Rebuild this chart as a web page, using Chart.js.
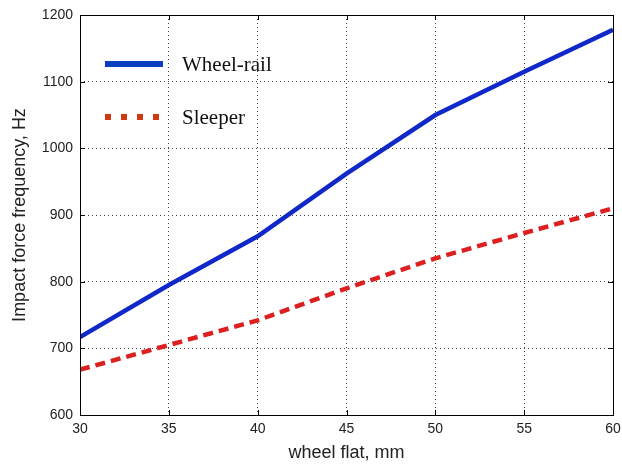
<!DOCTYPE html>
<html>
<head>
<meta charset="utf-8">
<script src="https://cdn.jsdelivr.net/npm/chart.js@4"></script>
<style>
html,body{margin:0;padding:0;background:#fff;}
#wrap{width:622px;height:464px;position:relative;}
</style>
</head>
<body>
<div id="wrap"><canvas id="c" width="622" height="464"></canvas></div>
<script>
const wheelFlat = [30, 35, 40, 45, 50, 55, 60];
const wheelRail = [717, 795, 868, 962, 1050, 1115, 1178];
const sleeper = [668, 705, 742, 790, 835, 873, 910];
const seriesNames = ['Wheel-rail', 'Sleeper'];
const xTicks = [30, 35, 40, 45, 50, 55, 60];
const yTicks = [600, 700, 800, 900, 1000, 1100, 1200];

const boxPlugin = {
  id: 'box',
  afterDraw(chart) {
    const a = chart.chartArea, ctx = chart.ctx;
    ctx.save();
    ctx.strokeStyle = '#000';
    ctx.lineWidth = 1;
    ctx.setLineDash([]);
    ctx.strokeRect(Math.round(a.left) + 0.5, Math.round(a.top) + 0.5, Math.round(a.right - a.left), Math.round(a.bottom - a.top));
    // inward ticks
    const xs = chart.scales.x, ys = chart.scales.y;
    ctx.beginPath();
    xTicks.forEach(v => {
      const px = Math.round(xs.getPixelForValue(v)) + 0.5;
      ctx.moveTo(px, a.bottom); ctx.lineTo(px, a.bottom - 5);
      ctx.moveTo(px, a.top); ctx.lineTo(px, a.top + 5);
    });
    yTicks.forEach(v => {
      const py = Math.round(ys.getPixelForValue(v)) + 0.5;
      ctx.moveTo(a.left, py); ctx.lineTo(a.left + 5, py);
      ctx.moveTo(a.right, py); ctx.lineTo(a.right - 5, py);
    });
    ctx.stroke();
    // legend
    const items = chart.data.datasets;
    const x0 = a.left + 25, x1 = a.left + 83, tx = a.left + 102;
    const ys0 = [a.top + 49, a.top + 102];
    items.forEach((ds, i) => {
      const y = ys0[i];
      ctx.beginPath();
      ctx.strokeStyle = ds.legendColor || ds.borderColor;
      ctx.lineWidth = 6;
      ctx.setLineDash(ds.borderDash && ds.borderDash.length ? [6, 10] : []);
      ctx.lineCap = 'butt';
      ctx.moveTo(x0, y); ctx.lineTo(x1, y);
      ctx.stroke();
      ctx.setLineDash([]);
      ctx.fillStyle = '#111';
      ctx.font = '21px "Liberation Serif", "DejaVu Serif", serif';
      ctx.textBaseline = 'middle';
      ctx.textAlign = 'left';
      ctx.fillText(ds.label, tx, y + 1);
    });
    ctx.restore();
  }
};

const sans = '"Liberation Sans", Arial, sans-serif';

new Chart(document.getElementById('c'), {
  type: 'line',
  data: {
    labels: wheelFlat,
    datasets: [
      {
        label: seriesNames[0],
        data: wheelFlat.map((x, i) => ({x: x, y: wheelRail[i]})),
        borderColor: '#1028c8',
        legendColor: '#0a3fc0',
        borderWidth: 4.5,
        pointRadius: 0,
        tension: 0,
        fill: false
      },
      {
        label: seriesNames[1],
        data: wheelFlat.map((x, i) => ({x: x, y: sleeper[i]})),
        borderColor: '#dc1f1f',
        legendColor: '#d03a10',
        borderWidth: 4.5,
        borderDash: [10, 6],
        pointRadius: 0,
        tension: 0,
        fill: false
      }
    ]
  },
  options: {
    responsive: false,
    animation: false,
    devicePixelRatio: 1,
    layout: {padding: {left: 0, right: 9, top: 15, bottom: 0}},
    plugins: {legend: {display: false}, tooltip: {enabled: false}},
    scales: {
      x: {
        type: 'linear',
        min: 30, max: 60,
        afterBuildTicks(s) { s.ticks = xTicks.map(v => ({value: v})); },
        afterFit(s) { s.height = 49; s.paddingLeft = 0; s.paddingRight = 0; },
        grid: {color: '#444', drawTicks: false, lineWidth: 1},
        border: {display: false, dash: [1, 3]},
        ticks: {color: '#222', font: {family: sans, size: 14}, padding: 6, maxRotation: 0, callback: v => String(v)},
        title: {display: true, text: 'wheel flat, mm', color: '#222', font: {family: sans, size: 18}, padding: {top: 0, bottom: 0}}
      },
      y: {
        min: 600, max: 1200,
        afterBuildTicks(s) { s.ticks = yTicks.map(v => ({value: v})); },
        afterFit(s) { s.width = 80; s.paddingTop = 0; s.paddingBottom = 0; },
        grid: {color: '#444', drawTicks: false, lineWidth: 1},
        border: {display: false, dash: [1, 3]},
        ticks: {color: '#222', font: {family: sans, size: 14}, padding: 7, callback: v => String(v)},
        title: {display: true, text: 'Impact force frequency, Hz', color: '#222', font: {family: sans, size: 18}, padding: {top: 9, bottom: 0}}
      }
    }
  },
  plugins: [boxPlugin]
});
</script>
</body>
</html>
